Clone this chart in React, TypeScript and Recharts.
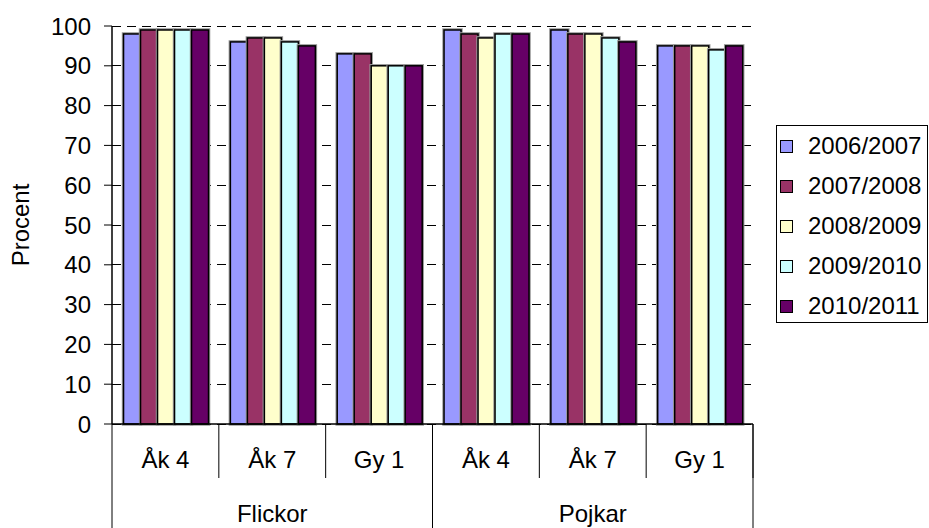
import { BarChart, Bar, XAxis, YAxis, CartesianGrid } from 'recharts';

// Kategorier (årskurs och kön)
const GRADES = ['Åk 4', 'Åk 7', 'Gy 1', 'Åk 4', 'Åk 7', 'Gy 1'];
const GENDERS = ['Flickor', 'Flickor', 'Flickor', 'Pojkar', 'Pojkar', 'Pojkar'];

// Procent per läsår
const Y2006 = [98, 96, 93, 99, 99, 95];
const Y2007 = [99, 97, 93, 98, 98, 95];
const Y2008 = [99, 97, 90, 97, 98, 95];
const Y2009 = [99, 96, 90, 98, 97, 94];
const Y2010 = [99, 95, 90, 98, 96, 95];

const Y_TICKS = [0, 10, 20, 30, 40, 50, 60, 70, 80, 90, 100];

const SERIES = [
  { key: 'y2006', label: '2006/2007', values: Y2006, color: '#9999FF' },
  { key: 'y2007', label: '2007/2008', values: Y2007, color: '#993366' },
  { key: 'y2008', label: '2008/2009', values: Y2008, color: '#FFFFCC' },
  { key: 'y2009', label: '2009/2010', values: Y2009, color: '#CCFFFF' },
  { key: 'y2010', label: '2010/2011', values: Y2010, color: '#660066' },
];

const data = GRADES.map((grade, i) => {
  const row: Record<string, string | number> = { grade, gender: GENDERS[i] };
  SERIES.forEach((s) => {
    row[s.key] = s.values[i];
  });
  return row;
});

// Layout
const W = 929;
const H = 528;
const LEFT = 112;
const RIGHT = 176;
const TOP = 26;
const PLOT_W = W - LEFT - RIGHT;
const AXIS1_H = 54;
const AXIS2_H = 50;
const FONT = '"Liberation Sans", Arial, sans-serif';
const FS = 24;

// Stapel med svart kant och grå skugga
function BarShape(props: any) {
  const { x, y, width, height, fill } = props;
  if (height == null || height <= 0) return null;
  return (
    <g>
      <rect x={x} y={y} width={width} height={height} fill="none" stroke="#999" strokeWidth={3.5} />
      <rect x={x} y={y} width={width} height={height} fill={fill} stroke="#000" strokeWidth={1.5} />
    </g>
  );
}

function GradeTick(props: any) {
  const { x, y, payload } = props;
  const half = PLOT_W / GRADES.length / 2;
  return (
    <g>
      <line x1={x + half} y1={y} x2={x + half} y2={y + AXIS1_H} stroke="#000" strokeWidth={1} />
      <text x={x} y={y + 44} textAnchor="middle" fontFamily={FONT} fontSize={FS} fill="#000">
        {payload.value}
      </text>
    </g>
  );
}

function GenderTick(props: any) {
  const { x, y, payload } = props;
  const half = PLOT_W / 4;
  return (
    <g>
      <line x1={x - half} y1={y - AXIS1_H} x2={x - half} y2={y + AXIS2_H} stroke="#000" strokeWidth={1} />
      <line x1={x + half} y1={y - AXIS1_H} x2={x + half} y2={y + AXIS2_H} stroke="#000" strokeWidth={1} />
      <text x={x} y={y + 44} textAnchor="middle" fontFamily={FONT} fontSize={FS} fill="#000">
        {payload.value}
      </text>
    </g>
  );
}

function ProcentLabel(props: any) {
  const vb = props.viewBox || {};
  const cy = (vb.y ?? TOP) + (vb.height ?? 398) / 2;
  return (
    <text
      x={29}
      y={cy}
      transform={`rotate(-90 29 ${cy})`}
      textAnchor="middle"
      fontFamily={FONT}
      fontSize={FS}
      fill="#000"
    >
      Procent
    </text>
  );
}

export default function App() {
  return (
    <div style={{ position: 'absolute', left: 0, top: 0, width: W, height: H, background: '#fff' }}>
      <BarChart
        width={W}
        height={H}
        data={data}
        margin={{ top: TOP, right: RIGHT, left: 0, bottom: 0 }}
        barCategoryGap="10.8%"
        barGap={0}
      >
        <CartesianGrid vertical={false} stroke="#000" strokeDasharray="9 6" shapeRendering="crispEdges" />
        <XAxis
          dataKey="grade"
          height={AXIS1_H}
          axisLine={{ stroke: '#000', strokeWidth: 1.5 }}
          tickLine={false}
          tickSize={0}
          tickMargin={0}
          interval={0}
          tick={<GradeTick />}
        />
        <XAxis
          xAxisId="gender"
          dataKey="gender"
          allowDuplicatedCategory={false}
          height={AXIS2_H}
          axisLine={false}
          tickLine={false}
          tickSize={0}
          tickMargin={0}
          interval={0}
          tick={<GenderTick />}
        />
        <YAxis
          width={LEFT}
          domain={[0, 100]}
          ticks={Y_TICKS}
          interval={0}
          axisLine={{ stroke: '#000', strokeWidth: 1.5 }}
          tickLine={{ stroke: '#000' }}
          tickSize={8}
          tickMargin={13}
          tick={{ fill: '#000', fontFamily: FONT, fontSize: FS }}
          label={ProcentLabel}
        />
        {SERIES.map((s) => (
          <Bar key={s.key} dataKey={s.key} name={s.label} fill={s.color} shape={<BarShape />} isAnimationActive={false} />
        ))}
      </BarChart>

      {/* Legend */}
      <div
        style={{
          position: 'absolute',
          left: 776,
          top: 125,
          width: 152,
          height: 198,
          border: '1px solid #000',
          boxSizing: 'border-box',
          fontFamily: FONT,
          fontSize: FS,
          background: '#fff',
        }}
      >
        {SERIES.map((s, i) => (
          <div
            key={s.key}
            style={{
              position: 'absolute',
              left: 3,
              top: 20 + i * 40 - 14,
              height: 28,
              display: 'flex',
              alignItems: 'center',
              whiteSpace: 'nowrap',
            }}
          >
            <span
              style={{
                width: 13,
                height: 13,
                background: s.color,
                border: '1px solid #000',
                boxSizing: 'border-box',
                marginRight: 15,
                display: 'inline-block',
              }}
            />
            <span style={{ lineHeight: '28px' }}>{s.label}</span>
          </div>
        ))}
      </div>
    </div>
  );
}
